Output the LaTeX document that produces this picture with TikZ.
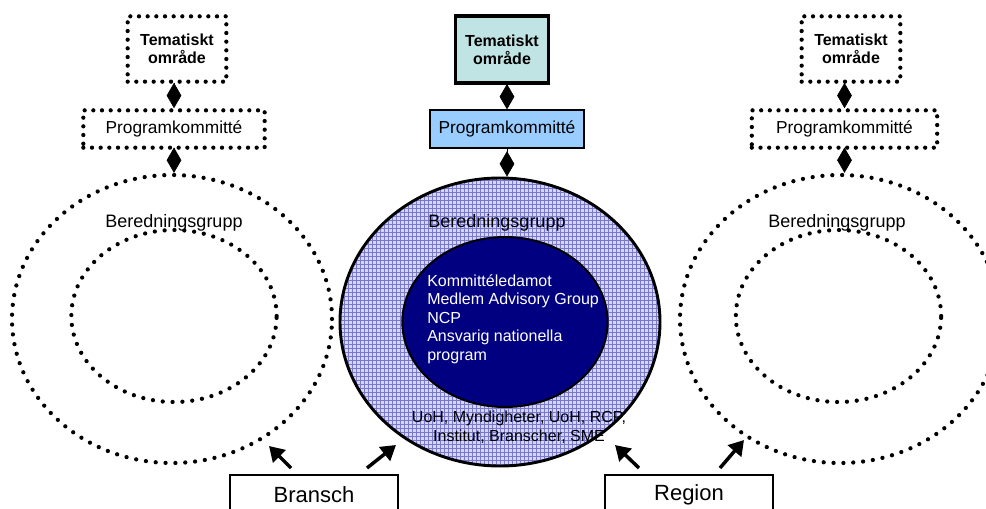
\documentclass[tikz,border=0pt]{standalone}
\usepackage{fontspec}
\setmainfont{Liberation Sans}
\usetikzlibrary{shapes.geometric,arrows.meta,patterns}
\definecolor{tealfill}{RGB}{192,228,228}
\definecolor{progblue}{RGB}{153,204,255}
\definecolor{navy}{RGB}{0,0,128}
\definecolor{lavender}{RGB}{214,214,242}
\definecolor{gridblue}{RGB}{120,120,205}

\begin{document}
\begin{tikzpicture}[x=0.75pt,y=-0.75pt,
prick/.style={draw, line width=3.2pt, dash pattern=on 0pt off 6.5pt, line cap=round},
glesprick/.style={prick, dash pattern=on 0pt off 7.4pt},
tema/.style={rectangle, minimum width=74pt, minimum height=49pt, inner sep=0pt, align=center, font=\fontsize{12}{13.5}\selectfont\bfseries},
prog/.style={rectangle, minimum height=28pt, inner sep=0pt, font=\fontsize{13}{15}\selectfont},
ring/.style={ellipse, minimum width=240pt, minimum height=216pt, inner sep=0pt},
karna/.style={ellipse, minimum width=154pt, minimum height=129pt, inner sep=0pt},
rubrik/.style={font=\fontsize{13.5}{15}\selectfont, inner sep=0pt},
ruta/.style={draw, line width=2.2pt, fill=white, minimum width=126pt, minimum height=30pt, font=\fontsize{16.5}{18}\selectfont},
ruter/.style={-{Diamond[length=19pt,width=11pt]}},
pil/.style={line width=2.6pt, -{Triangle[length=11pt,width=13pt]}}]
\useasboundingbox (0,0) rectangle (986,508);
\clip (0,0) rectangle (986,508);

\node[tema, prick] (tem1) at (177,49) {Tematiskt\\område};
\node[prog, prick, minimum width=136pt] (prog1) at (174,129) {Programkommitté};
\node[ring, glesprick] (ring1) at (172,319) {};
\node[karna, glesprick] (karna1) at (174,316) {};
\node[rubrik] (bg1) at (174,223) {Beredningsgrupp};

\node[tema, draw, line width=2.6pt, fill=tealfill, minimum width=70pt, minimum height=50pt] (tem2) at (502,49.5) {Tematiskt\\område};
\node[prog, draw, line width=1.5pt, fill=progblue, minimum width=115pt] (prog2) at (507,129) {Programkommitté};
\node[ring, draw, line width=2.2pt, preaction={fill=lavender}, pattern=grid, pattern color=gridblue] (ring2) at (500,322) {};
\node[karna, draw, line width=1.5pt, fill=navy, minimum height=127.5pt] (karna2) at (505,322) {};
\node[rubrik] (bg2) at (497,223) {Beredningsgrupp};
\node[anchor=west, align=left, inner sep=0pt, text=white, font=\fontsize{12}{13.9}\selectfont] (roller) at (427,319) {Kommittéledamot\\Medlem Advisory Group\\NCP\\Ansvarig nationella\\program};
\node[align=center, inner sep=0pt, font=\fontsize{12}{14.2}\selectfont] (aktorer) at (519,427) {UoH, Myndigheter, UoH, RCP,\\Institut, Branscher, SME};

\node[tema, prick] (tem3) at (851,49) {Tematiskt\\område};
\node[prog, prick, minimum width=139pt] (prog3) at (844.5,129) {Programkommitté};
\node[ring, glesprick] (ring3) at (840,319) {};
\node[karna, glesprick] (karna3) at (838.5,316) {};
\node[rubrik] (bg3) at (837,223) {Beredningsgrupp};

\node[ruta] (bransch) at (314,495) {Bransch};
\node[ruta] (region) at (689,495) {Region};

\draw[ruter] (tem1.south -| prog1) -- (prog1.north);
\draw[ruter] (prog1.south) -- (prog1.south |- ring1.north);
\draw[ruter] (tem2.south -| prog2) -- (prog2.north);
\draw[ruter] (prog2.south) -- (prog2.south |- ring2.north);
\draw[ruter] (tem3.south -| prog3) -- (prog3.north);
\draw[ruter] (prog3.south) -- (prog3.south |- ring3.north);

\coordinate (b1) at (291,468);
\coordinate (b1m) at (269,446);
\coordinate (b2) at (367,468);
\coordinate (b2m) at (396,445);
\coordinate (r1) at (639,468);
\coordinate (r1m) at (615,445);
\coordinate (r2) at (720,468);
\coordinate (r2m) at (744,440);
\draw[pil] (b1) -- (b1m);
\draw[pil] (b2) -- (b2m);
\draw[pil] (r1) -- (r1m);
\draw[pil] (r2) -- (r2m);
\end{tikzpicture}
\end{document}
